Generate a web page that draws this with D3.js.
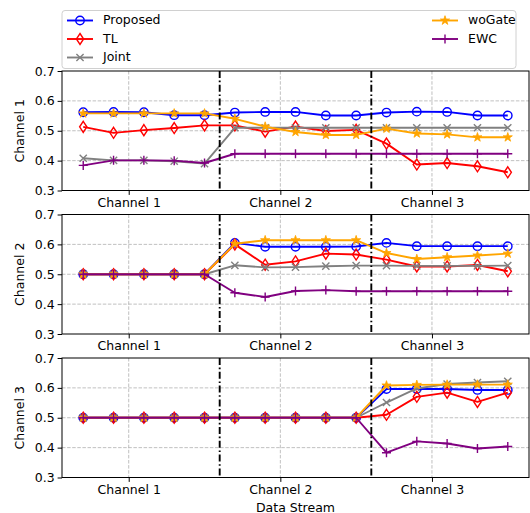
<!DOCTYPE html>
<html>
<head>
<meta charset="utf-8">
<script src="https://cdn.jsdelivr.net/npm/d3@7"></script>
<style>
  body { margin: 0; background: #fff; }
  svg { font-family: "DejaVu Sans", sans-serif; }
</style>
</head>
<body>
<svg id="chart" width="530" height="513"></svg>
<script>
// x tick labels and where they sit on the index axis
const channels = ['Channel 1', 'Channel 2', 'Channel 3']
const channelTicks = [1.5, 6.5, 11.5]
const separators = [4.5, 9.5]
const yTicks = [0.3, 0.4, 0.5, 0.6, 0.7]
const methods = ['Proposed', 'TL', 'Joint', 'woGate', 'EWC']

// panel 1 (Channel 1 accuracy)
const proposedCh1 = [0.562, 0.563, 0.562, 0.552, 0.552, 0.561, 0.563, 0.563, 0.551, 0.551, 0.561, 0.564, 0.563, 0.551, 0.551]
const tlCh1       = [0.513, 0.493, 0.502, 0.509, 0.518, 0.518, 0.497, 0.514, 0.499, 0.503, 0.457, 0.387, 0.392, 0.381, 0.361]
const jointCh1    = [0.408, 0.401, 0.401, 0.398, 0.390, 0.510, 0.510, 0.510, 0.510, 0.510, 0.510, 0.510, 0.510, 0.510, 0.510]
const woGateCh1   = [0.558, 0.558, 0.558, 0.558, 0.558, 0.540, 0.514, 0.496, 0.486, 0.486, 0.507, 0.491, 0.488, 0.478, 0.478]
const ewcCh1      = [0.384, 0.401, 0.401, 0.400, 0.392, 0.423, 0.423, 0.423, 0.423, 0.423, 0.423, 0.423, 0.423, 0.423, 0.423]

// panel 2
const proposedCh2 = [0.5, 0.5, 0.5, 0.5, 0.5, 0.605, 0.592, 0.592, 0.592, 0.593, 0.605, 0.594, 0.594, 0.594, 0.594]
const tlCh2       = [0.5, 0.5, 0.5, 0.5, 0.5, 0.600, 0.532, 0.543, 0.569, 0.566, 0.549, 0.526, 0.526, 0.531, 0.510]
const jointCh2    = [0.5, 0.5, 0.5, 0.5, 0.5, 0.530, 0.523, 0.524, 0.527, 0.529, 0.529, 0.528, 0.528, 0.528, 0.529]
const woGateCh2   = [0.5, 0.5, 0.5, 0.5, 0.5, 0.602, 0.614, 0.614, 0.614, 0.614, 0.571, 0.551, 0.557, 0.563, 0.569]
const ewcCh2      = [0.5, 0.5, 0.5, 0.5, 0.5, 0.438, 0.424, 0.444, 0.447, 0.443, 0.443, 0.443, 0.443, 0.443, 0.443]

// panel 3
const proposedCh3 = [0.5, 0.5, 0.5, 0.5, 0.5, 0.5, 0.5, 0.5, 0.5, 0.5, 0.596, 0.596, 0.596, 0.593, 0.593]
const tlCh3       = [0.5, 0.5, 0.5, 0.5, 0.5, 0.5, 0.5, 0.5, 0.5, 0.5, 0.510, 0.570, 0.584, 0.553, 0.584]
const jointCh3    = [0.5, 0.5, 0.5, 0.5, 0.5, 0.5, 0.5, 0.5, 0.5, 0.5, 0.551, 0.598, 0.613, 0.618, 0.622]
const woGateCh3   = [0.5, 0.5, 0.5, 0.5, 0.5, 0.5, 0.5, 0.5, 0.5, 0.5, 0.608, 0.610, 0.611, 0.611, 0.611]
const ewcCh3      = [0.5, 0.5, 0.5, 0.5, 0.5, 0.5, 0.5, 0.5, 0.5, 0.5, 0.383, 0.421, 0.414, 0.397, 0.404]

const panels = [
  [proposedCh1, tlCh1, jointCh1, woGateCh1, ewcCh1],
  [proposedCh2, tlCh2, jointCh2, woGateCh2, ewcCh2],
  [proposedCh3, tlCh3, jointCh3, woGateCh3, ewcCh3]
]

const colors = { Proposed: 'blue', TL: 'red', Joint: 'grey', woGate: 'orange', EWC: 'purple' }

let svg = d3.select('#chart')
const left = 62, right = 529
const tops = [71, 214.5, 358]
const ph = 119.5

let x = d3.scaleLinear().domain([-0.7, 14.7]).range([left, right])

// marker shapes
let marker = (g, name, cx, cy) => {
  let c = colors[name]
  if (name === 'Proposed') {
    g.append('circle').attr('cx', cx).attr('cy', cy).attr('r', 4.2)
      .attr('fill', 'none').attr('stroke', c).attr('stroke-width', 1.4)
  } else if (name === 'TL') {
    g.append('path').attr('d', `M${cx},${cy-5.5}L${cx+3.6},${cy}L${cx},${cy+5.5}L${cx-3.6},${cy}Z`)
      .attr('fill', 'none').attr('stroke', c).attr('stroke-width', 1.4)
  } else if (name === 'Joint') {
    let s = 3.6
    g.append('path').attr('d', `M${cx-s},${cy-s}L${cx+s},${cy+s}M${cx-s},${cy+s}L${cx+s},${cy-s}`)
      .attr('stroke', c).attr('stroke-width', 1.4)
  } else if (name === 'woGate') {
    g.append('path').attr('d', d3.symbol(d3.symbolStar, 26)())
      .attr('transform', `translate(${cx},${cy})`)
      .attr('fill', c).attr('stroke', c).attr('stroke-width', 0.8)
  } else {
    let s = 4.5
    g.append('path').attr('d', `M${cx-s},${cy}L${cx+s},${cy}M${cx},${cy-s}L${cx},${cy+s}`)
      .attr('stroke', c).attr('stroke-width', 1.4)
  }
}

panels.forEach((series, p) => {
  let top = tops[p]
  let y = d3.scaleLinear().domain([0.3, 0.7]).range([top + ph, top])
  let g = svg.append('g')

  // grid
  g.selectAll('.vgrid').data(channelTicks).enter().append('line')
    .attr('x1', d => x(d)).attr('x2', d => x(d))
    .attr('y1', top).attr('y2', top + ph)
    .attr('stroke', '#b0b0b0').attr('stroke-width', 0.8).attr('stroke-dasharray', '3.5,1.6')
  g.selectAll('.hgrid').data(yTicks.slice(1, -1)).enter().append('line')
    .attr('x1', left).attr('x2', right)
    .attr('y1', d => y(d)).attr('y2', d => y(d))
    .attr('stroke', '#b0b0b0').attr('stroke-width', 0.8).attr('stroke-dasharray', '3.5,1.6')

  // axes
  let xAxis = d3.axisBottom(x).tickValues(channelTicks).tickFormat((d, i) => channels[i]).tickSize(4.4).tickPadding(3)
  let yAxis = d3.axisLeft(y).tickValues(yTicks).tickFormat(d3.format('.1f')).tickSize(4.4).tickPadding(3)
  let ax = g.append('g').attr('transform', `translate(0,${top + ph})`).call(xAxis)
  let ay = g.append('g').attr('transform', `translate(${left},0)`).call(yAxis)
  ;[ax, ay].forEach(a => {
    a.select('.domain').remove()
    a.selectAll('text').attr('font-size', 12.5).attr('fill', '#000').attr('font-family', 'DejaVu Sans')
    a.selectAll('line').attr('stroke', '#000').attr('stroke-width', 1)
  })

  // lines + markers
  let line = d3.line().x((d, i) => x(i)).y(d => y(d))
  series.forEach((vals, k) => {
    let name = methods[k]
    g.append('path').datum(vals).attr('d', line)
      .attr('fill', 'none').attr('stroke', colors[name]).attr('stroke-width', 1.9)
      .attr('stroke-linejoin', 'round')
    let mg = g.append('g')
    vals.forEach((v, i) => marker(mg, name, x(i), y(v)))
  })

  // separators
  g.selectAll('.sep').data(separators).enter().append('line')
    .attr('x1', d => x(d)).attr('x2', d => x(d))
    .attr('y1', top).attr('y2', top + ph)
    .attr('stroke', '#000').attr('stroke-width', 1.9).attr('stroke-dasharray', '7,2.6,1.6,2.6')

  // frame
  g.append('rect').attr('x', left).attr('y', top).attr('width', right - left).attr('height', ph)
    .attr('fill', 'none').attr('stroke', '#000').attr('stroke-width', 1)

  svg.append('text')
    .attr('transform', `translate(20,${top + ph / 2}) rotate(-90)`)
    .attr('text-anchor', 'middle').attr('dominant-baseline', 'middle')
    .attr('font-size', 12.5).text(channels[p])
})

svg.append('text').attr('x', (left + right) / 2).attr('y', 508)
  .attr('text-anchor', 'middle').attr('dominant-baseline', 'middle')
  .attr('font-size', 12.5).text('Data Stream')

// legend
let lg = svg.append('g')
lg.append('rect').attr('x', 62).attr('y', 10.5).attr('width', 454).attr('height', 58)
  .attr('rx', 3).attr('fill', '#fff').attr('fill-opacity', 0.8)
  .attr('stroke', '#d0d0d0').attr('stroke-width', 1)
methods.forEach((name, i) => {
  let col = i < 3 ? 0 : 1
  let row = i < 3 ? i : i - 3
  let hx = col === 0 ? 67 : 432
  let ly = 20.5 + row * 18.5
  lg.append('line').attr('x1', hx).attr('x2', hx + 26).attr('y1', ly).attr('y2', ly)
    .attr('stroke', colors[name]).attr('stroke-width', 1.9)
  marker(lg, name, hx + 13, ly)
  lg.append('text').attr('x', hx + 36).attr('y', ly).attr('dominant-baseline', 'middle')
    .attr('font-size', 12.5).text(name)
})
</script>
</body>
</html>
